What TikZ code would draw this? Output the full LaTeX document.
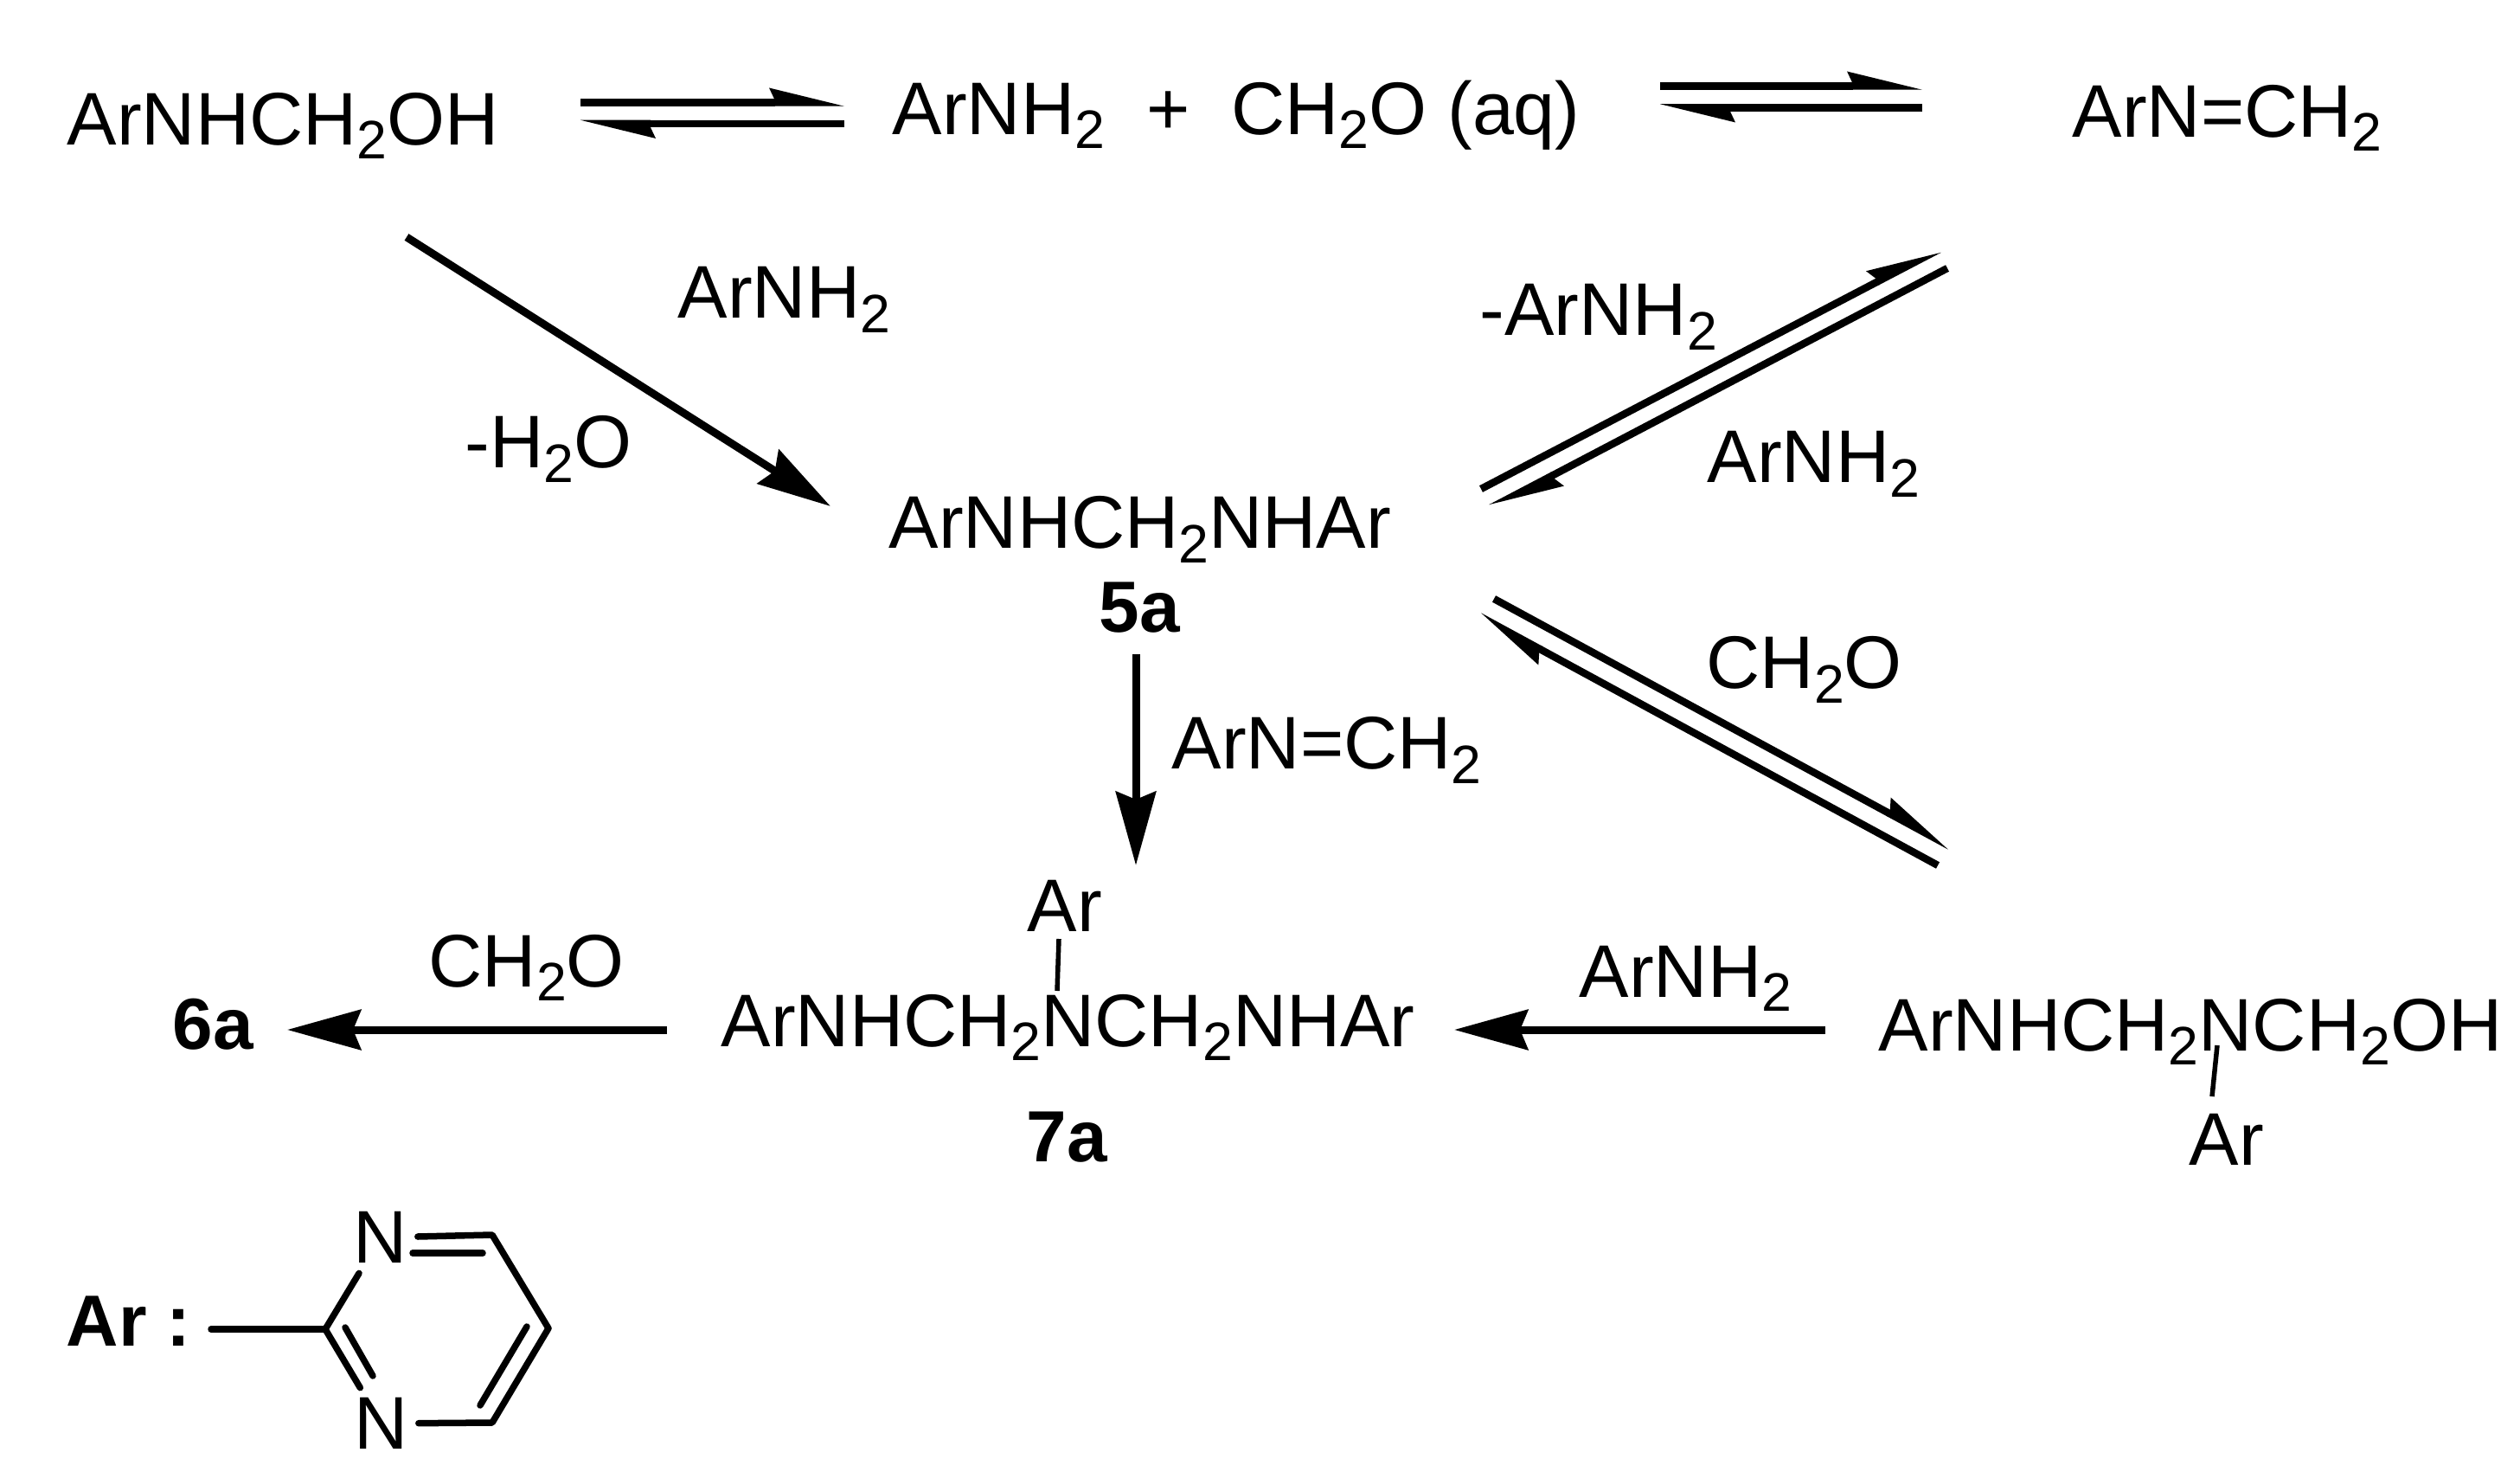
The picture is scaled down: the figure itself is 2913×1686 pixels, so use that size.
\documentclass[tikz,border=0pt]{standalone}
\usepackage{fontspec}
\setmainfont{Liberation Sans}
\usetikzlibrary{arrows.meta,decorations.markings}
\newcommand\subtwo{\raisebox{-0.16cm}{\fontsize{17.8}{20}\selectfont 2}}
\tikzset{
chem/.style = {anchor = base west, inner sep = 0, font = \fontsize{24.5}{29}\selectfont},
tag/.style = {chem, font = \fontsize{23.8}{29}\selectfont\bfseries},
ringatom/.style = {anchor = center, inner sep = 0.11cm, font = \fontsize{24.5}{29}\selectfont},
bond/.style = {line width = 0.075cm, line cap = round, line join = round},
stub/.style = {line width = 0.055cm},
mainarrow/.style = {line width = 0.09cm, -{Stealth[length = 0.85cm, width = 0.46cm, inset = 0.09cm]}},
halfarrow/.style = {line width = 0.085cm, shorten >= 0.8cm, postaction = {decorate},
  decoration = {markings, mark = at position 1 with {\fill (0,4.25) -- (-87,-17) -- (-81,-4.25) -- (-81,4.25) -- cycle;}}}
}
\begin{document}
\begin{tikzpicture}[x = 0.01cm, y = -0.01cm]
\useasboundingbox (0,0) rectangle (2913,1686);
\node[chem] (carbinol) at (77,168) {ArNHCH\subtwo OH};
\node[chem] (amine) at (1031,156) {ArNH\subtwo\ \ +\ \ CH\subtwo O (aq)};
\node[chem] (imine) at (2395,159) {ArN=CH\subtwo};
\node[chem] (arnhtop) at (783,368) {ArNH\subtwo};
\node[chem] (minuswater) at (537,541) {-H\subtwo O};
\node[chem] (minusamine) at (1710,388) {-ArNH\subtwo};
\node[chem] (arnhright) at (1973,558) {ArNH\subtwo};
\node[chem] (formright) at (1972,796) {CH\subtwo O};
\node[chem] (aminal) at (1027,634) {ArNHCH\subtwo NHAr};
\node[tag] (tagfive) at (1270,731) {5a};
\node[chem] (iminelabel) at (1354,889) {ArN=CH\subtwo};
\node[chem] (formleft) at (495,1140) {CH\subtwo O};
\node[chem] (arnhlow) at (1825,1152) {ArNH\subtwo};
\node[tag] (tagsix) at (199,1212) {6a};
\node[chem] (arseven) at (1187,1076) {Ar};
\node[chem] (triamine) at (833,1209) {ArNHCH\subtwo NCH\subtwo NHAr};
\node[tag] (tagseven) at (1186,1342) {7a};
\node[chem] (hydroxy) at (2171,1214) {ArNHCH\subtwo NCH\subtwo OH};
\node[chem] (arhydroxy) at (2530,1346) {Ar};
\node[tag] (arkey) at (76,1555) {Ar :};
\node[ringatom] (ntop) at (440,1430) {N};
\node[ringatom] (nbot) at (441,1645) {N};
\coordinate (eqas) at (671,118.5);
\coordinate (eqae) at (976,118.5);
\coordinate (eqbs) at (976,143);
\coordinate (eqbe) at (671,143);
\coordinate (eqcs) at (1919,99.5);
\coordinate (eqce) at (2222,99.5);
\coordinate (eqds) at (2222,124.5);
\coordinate (eqde) at (1919,124.5);
\coordinate (eqes) at (1712,565);
\coordinate (eqee) at (2242,288);
\coordinate (eqfs) at (2251,310);
\coordinate (eqfe) at (1723,587);
\coordinate (eqgs) at (1727,692);
\coordinate (eqge) at (2254,978);
\coordinate (eqhs) at (2240,1000);
\coordinate (eqhe) at (1710,712);
\foreach \a/\b in {eqas/eqae,eqbs/eqbe,eqcs/eqce,eqds/eqde,eqes/eqee,eqfs/eqfe,eqgs/eqge,eqhs/eqhe} \draw[halfarrow] (\a) -- (\b);
\coordinate (onestart) at (470,274);
\coordinate (oneend) at (960,585);
\coordinate (twostart) at (1313,756);
\coordinate (twoend) at (1313,1000);
\coordinate (threestart) at (2110,1190);
\coordinate (threeend) at (1681,1190);
\coordinate (fourstart) at (771,1190);
\coordinate (fourend) at (332,1190);
\foreach \a/\b in {onestart/oneend,twostart/twoend,threestart/threeend,fourstart/fourend} \draw[mainarrow] (\a) -- (\b);
\coordinate (stubatop) at (1224,1085);
\coordinate (stubabot) at (1222,1145);
\coordinate (stubbtop) at (2563,1208);
\coordinate (stubbbot) at (2557,1267);
\draw[stub] (stubatop) -- (stubabot);
\draw[stub] (stubbtop) -- (stubbbot);
\coordinate (cb) at (376,1536);
\coordinate (cd) at (569,1427);
\coordinate (ce) at (634,1535);
\coordinate (cf) at (569,1644);
\coordinate (tail) at (244,1536);
\draw[bond] (tail) -- (cb);
\draw[bond] (cb) -- (ntop);
\draw[bond] (cb) -- (nbot);
\draw[bond] (ntop) -- (cd) -- (ce) -- (cf) -- (nbot);
\coordinate (ina) at (477,1448);
\coordinate (inb) at (558,1448);
\coordinate (inc) at (609,1533);
\coordinate (ind) at (555,1624);
\coordinate (ine) at (399,1534);
\coordinate (inf) at (431,1590);
\draw[bond] (ina) -- (inb);
\draw[bond] (inc) -- (ind);
\draw[bond] (ine) -- (inf);
\end{tikzpicture}
\end{document}
